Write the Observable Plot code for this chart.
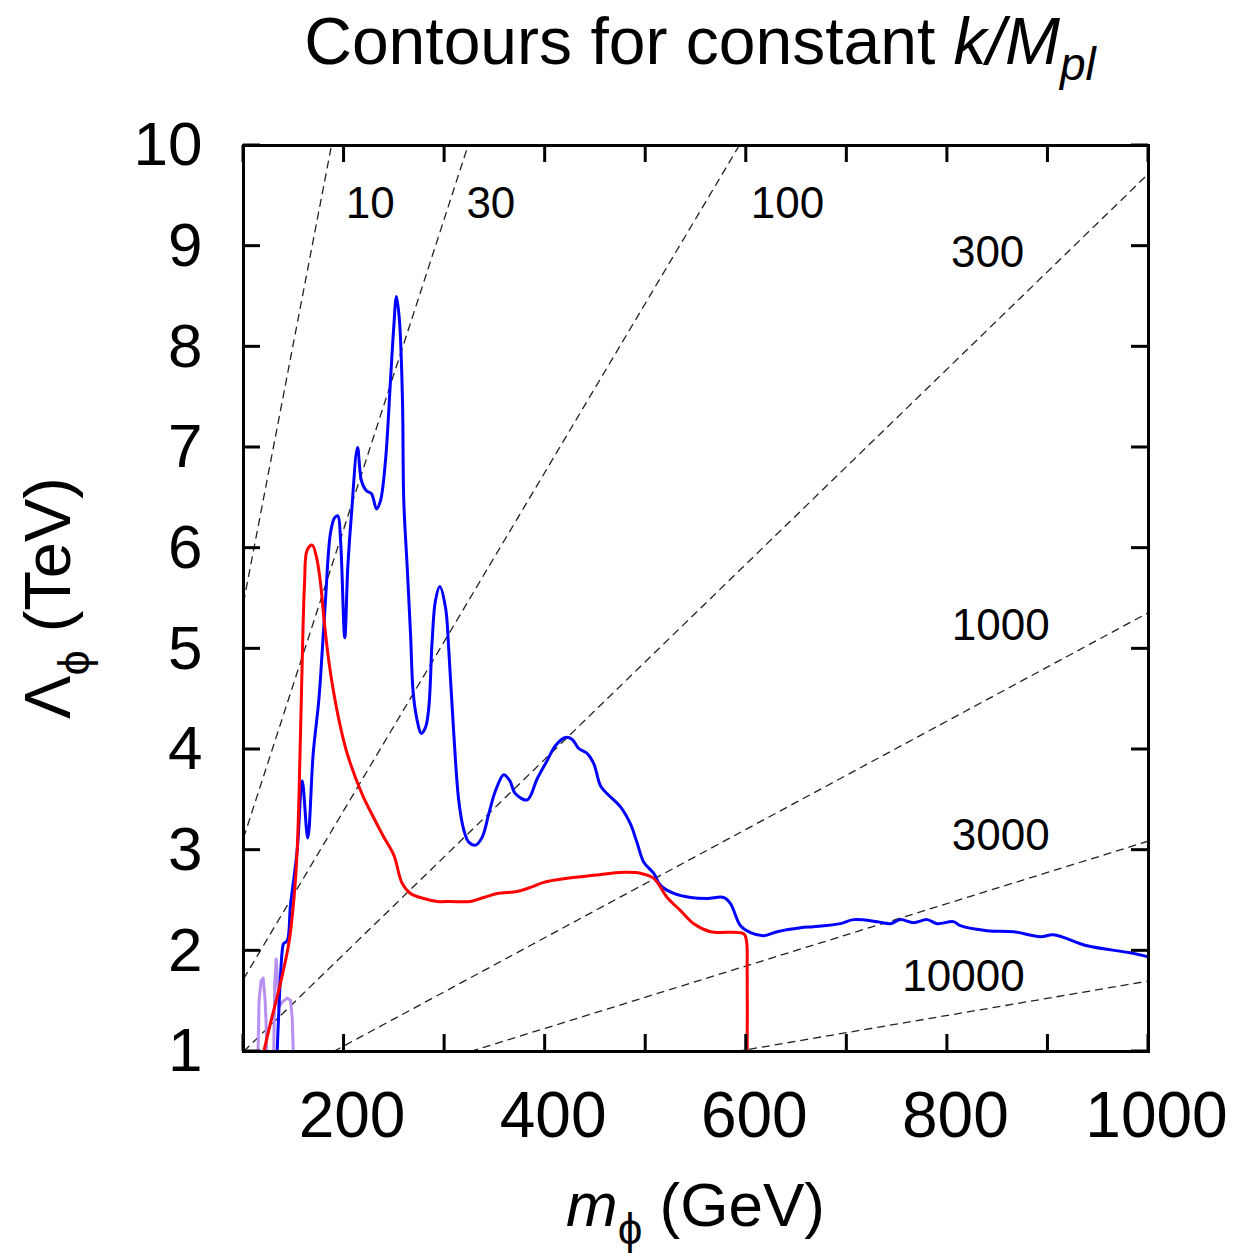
<!DOCTYPE html>
<html>
<head>
<meta charset="utf-8">
<script src="https://cdn.jsdelivr.net/npm/d3@7"></script>
<script src="https://cdn.jsdelivr.net/npm/@observablehq/plot@0.6"></script>
<style>
  body { margin: 0; background: #fff; }
  #chart svg { display: block; }
</style>
</head>
<body>
<div id="chart"></div>
<script>
// ---------- data ----------
const xTicks = [100, 200, 300, 400, 500, 600, 700, 800, 900, 1000];
const xTickLabels = [200, 400, 600, 800, 1000];
const yTicks = [1, 2, 3, 4, 5, 6, 7, 8, 9, 10];

// dashed contours of constant k/M_pl: label, start (m, Λ), end (m, Λ), label position
const contourLabels = ["10", "30", "100", "300", "1000", "3000", "10000"];
const contourStartM = [100, 100, 100, 100, 189.5, 325.6, 590];
const contourStartL = [5.46, 3.12, 1.72, 1.0, 1.0, 1.0, 1.0];
const contourEndM = [187.5, 323.3, 593, 1000, 1000, 1000, 1000];
const contourEndL = [10, 10, 10, 9.72, 5.36, 3.09, 1.70];
const labelM = [226, 346, 641, 840, 853, 853, 816];
const labelL = [9.42, 9.42, 9.42, 8.93, 5.23, 3.14, 1.74];

// blue curve [m_phi (GeV), Lambda_phi (TeV)]
const blue = [
  [133.5,1.00],[138.5,2.00],[139.8,2.07],[143.5,2.10],[146.7,2.45],[153.4,3.00],[158.4,3.69],
  [163.9,3.12],[169.3,3.96],[174.9,4.49],[178.3,4.98],[181.5,5.48],[186.5,6.15],[190.5,6.30],
  [193.8,6.32],[196.5,6.08],[200.7,5.11],[203.7,5.81],[207.1,6.30],[213.4,7.00],[217.3,6.67],
  [222.3,6.57],[227.3,6.54],[232.3,6.39],[236.2,6.47],[241.2,6.87],[246.2,7.67],[249.2,8.16],
  [252.1,8.50],[255.1,8.26],[258.1,7.47],[259.4,6.47],[262.8,5.81],[266.1,5.15],[268.8,4.56],
  [272.7,4.29],[276.7,4.16],[281.0,4.22],[284.3,4.42],[287.6,5.08],[290.9,5.48],[295.2,5.62],
  [300.9,5.41],[304.2,4.98],[309.1,4.16],[314.1,3.49],[319.1,3.20],[324.0,3.08],[330.7,3.05],
  [337.4,3.13],[343.9,3.36],[350.6,3.59],[358.8,3.75],[364.8,3.69],[370.5,3.56],[382.1,3.50],
  [392.1,3.71],[402.0,3.89],[410.3,4.04],[420.2,4.12],[426.9,4.10],[433.4,4.01],[441.8,3.96],
  [448.3,3.86],[455.0,3.64],[461.7,3.56],[474.9,3.43],[484.8,3.26],[491.5,3.07],[498.1,2.88],
  [508.0,2.77],[514.7,2.65],[527.9,2.57],[544.5,2.53],[561.1,2.52],[577.6,2.53],[584.3,2.47],
  [594.2,2.25],[604.2,2.18],[617.4,2.15],[630.7,2.19],[654.0,2.23],[666.8,2.24],[693.7,2.27],
  [706.6,2.31],[730.2,2.29],[743.4,2.27],[753.3,2.31],[766.3,2.28],[779.9,2.31],[789.8,2.27],
  [806.0,2.29],[813.0,2.25],[839.5,2.20],[865.7,2.19],[892.6,2.14],[905.5,2.16],[939.0,2.05],
  [982.0,1.98],[1000,1.94]
];

// red curve
const red = [
  [120.2,1.00],[126.8,1.28],[136.8,1.68],[145.0,2.07],[150.0,2.50],[153.4,3.00],[156.7,4.16],
  [158.4,4.88],[160.7,5.65],[163.3,5.98],[168.3,6.03],[172.6,5.91],[176.6,5.65],[180.5,5.25],
  [184.8,4.88],[189.8,4.56],[196.5,4.22],[203.1,3.96],[211.4,3.72],[219.6,3.52],[229.6,3.32],
  [239.5,3.13],[249.5,2.95],[257.8,2.67],[266.1,2.57],[279.3,2.52],[292.9,2.49],[305.8,2.49],
  [325.7,2.49],[339.0,2.53],[352.3,2.57],[372.2,2.59],[385.4,2.63],[398.6,2.68],[421.9,2.72],
  [448.3,2.75],[478.2,2.78],[494.8,2.77],[508.0,2.72],[521.3,2.53],[534.6,2.40],[547.8,2.27],
  [564.4,2.19],[597.5,2.17],[600.2,2.10],[600.9,1.80],[600.9,1.00]
];

// light purple curves near the lower-left corner
const purpleA = [[114.5,1.01],[115.5,1.51],[117.5,1.70],[119.6,1.73],[121.5,1.51],[122.5,1.28],[123.0,1.01]];
const purpleB = [[130.1,1.01],[131.1,1.68],[132.5,1.92],[134.1,1.68],[135.1,1.44],[138.5,1.49],
                 [143.5,1.53],[146.7,1.51],[148.4,1.34],[149.5,1.01]];

// ---------- build tables ----------
const contours = contourLabels.map((label, i) => ({
  label, x1: contourStartM[i], y1: contourStartL[i], x2: contourEndM[i], y2: contourEndL[i],
  lx: labelM[i], ly: labelL[i]
}));
const toRows = (arr, g) => arr.map(([m, L]) => ({ m, L, g }));
const purple = [...toRows(purpleA, "a"), ...toRows(purpleB, "b")];

const FONT = "'Liberation Sans', Arial, Helvetica, sans-serif";
const PHI = "\u03D5";

const plot = Plot.plot({
  width: 1240,
  height: 1258,
  marginLeft: 243,
  marginRight: 92,
  marginTop: 145,
  marginBottom: 207,
  style: { fontFamily: FONT, background: "#fff", color: "#000", overflow: "visible" },
  x: { domain: [100, 1000] },
  y: { domain: [1, 10] },
  marks: [
    Plot.link(contours, {
      x1: "x1", y1: "y1", x2: "x2", y2: "y2",
      stroke: "#222", strokeWidth: 1.3, strokeDasharray: "8,5", clip: true
    }),
    Plot.line(purple, { x: "m", y: "L", z: "g", stroke: "#b890f2", strokeWidth: 3, clip: true }),
    Plot.line(toRows(blue, "b"), { x: "m", y: "L", stroke: "#0000ff", strokeWidth: 3, curve: "catmull-rom", clip: true }),
    Plot.line(toRows(red, "r"), { x: "m", y: "L", stroke: "#ff0000", strokeWidth: 3, curve: "catmull-rom", clip: true }),
    Plot.text(contours, { x: "lx", y: "ly", text: "label", fontSize: 44, fill: "#000", lineAnchor: "middle" }),
    Plot.axisX(xTickLabels, { anchor: "bottom", tickSize: 0, tickPadding: 40, fontSize: 64, dx: 8, label: null, tickFormat: d => String(d) }),
    Plot.axisY(yTicks, { anchor: "left", tickSize: 0, tickPadding: 41, fontSize: 62, label: null, tickFormat: d => String(d) }),
    Plot.frame({ stroke: "#000", strokeWidth: 3 })
  ]
});

document.getElementById("chart").appendChild(plot);

// ---------- inward ticks on all four sides (positions from Plot's scales) ----------
const sx = plot.scale("x"), sy = plot.scale("y");
const svg = d3.select(plot);
const frameL = sx.apply(100), frameR = sx.apply(1000), frameB = sy.apply(1), frameT = sy.apply(10);
const TL = 17;
const tg = svg.append("g").attr("stroke", "#000").attr("stroke-width", 3);
for (const v of xTicks) {
  const X = sx.apply(v);
  tg.append("line").attr("x1", X).attr("x2", X).attr("y1", frameB).attr("y2", frameB - TL);
  tg.append("line").attr("x1", X).attr("x2", X).attr("y1", frameT).attr("y2", frameT + TL);
}
for (const v of yTicks) {
  const Y = sy.apply(v);
  tg.append("line").attr("y1", Y).attr("y2", Y).attr("x1", frameL).attr("x2", frameL + TL);
  tg.append("line").attr("y1", Y).attr("y2", Y).attr("x1", frameR).attr("x2", frameR - TL);
}

// ---------- title ----------
const title = svg.append("text")
  .attr("x", 700).attr("y", 64)
  .attr("text-anchor", "middle").attr("font-size", 66).attr("font-family", FONT).attr("fill", "#000");
title.append("tspan").text("Contours for constant ");
title.append("tspan").attr("font-style", "italic").text("k/M");
title.append("tspan").attr("font-style", "italic").attr("font-size", 46).attr("dy", 16).text("pl");

// ---------- axis labels ----------
const xl = svg.append("text")
  .attr("x", (frameL + frameR) / 2).attr("y", 1226)
  .attr("text-anchor", "middle").attr("font-size", 62).attr("font-family", FONT).attr("fill", "#000");
xl.append("tspan").attr("font-style", "italic").text("m");
xl.append("tspan").attr("font-size", 44).attr("dy", 18).text(PHI);
xl.append("tspan").attr("dy", -18).text(" (GeV)");

const yl = svg.append("text")
  .attr("transform", `translate(70,${(frameT + frameB) / 2}) rotate(-90)`)
  .attr("text-anchor", "middle").attr("font-size", 65).attr("font-family", FONT).attr("fill", "#000");
yl.append("tspan").text("\u039B");
yl.append("tspan").attr("font-size", 45).attr("dy", 19).text(PHI);
yl.append("tspan").attr("dy", -19).text(" (TeV)");
</script>
</body>
</html>
